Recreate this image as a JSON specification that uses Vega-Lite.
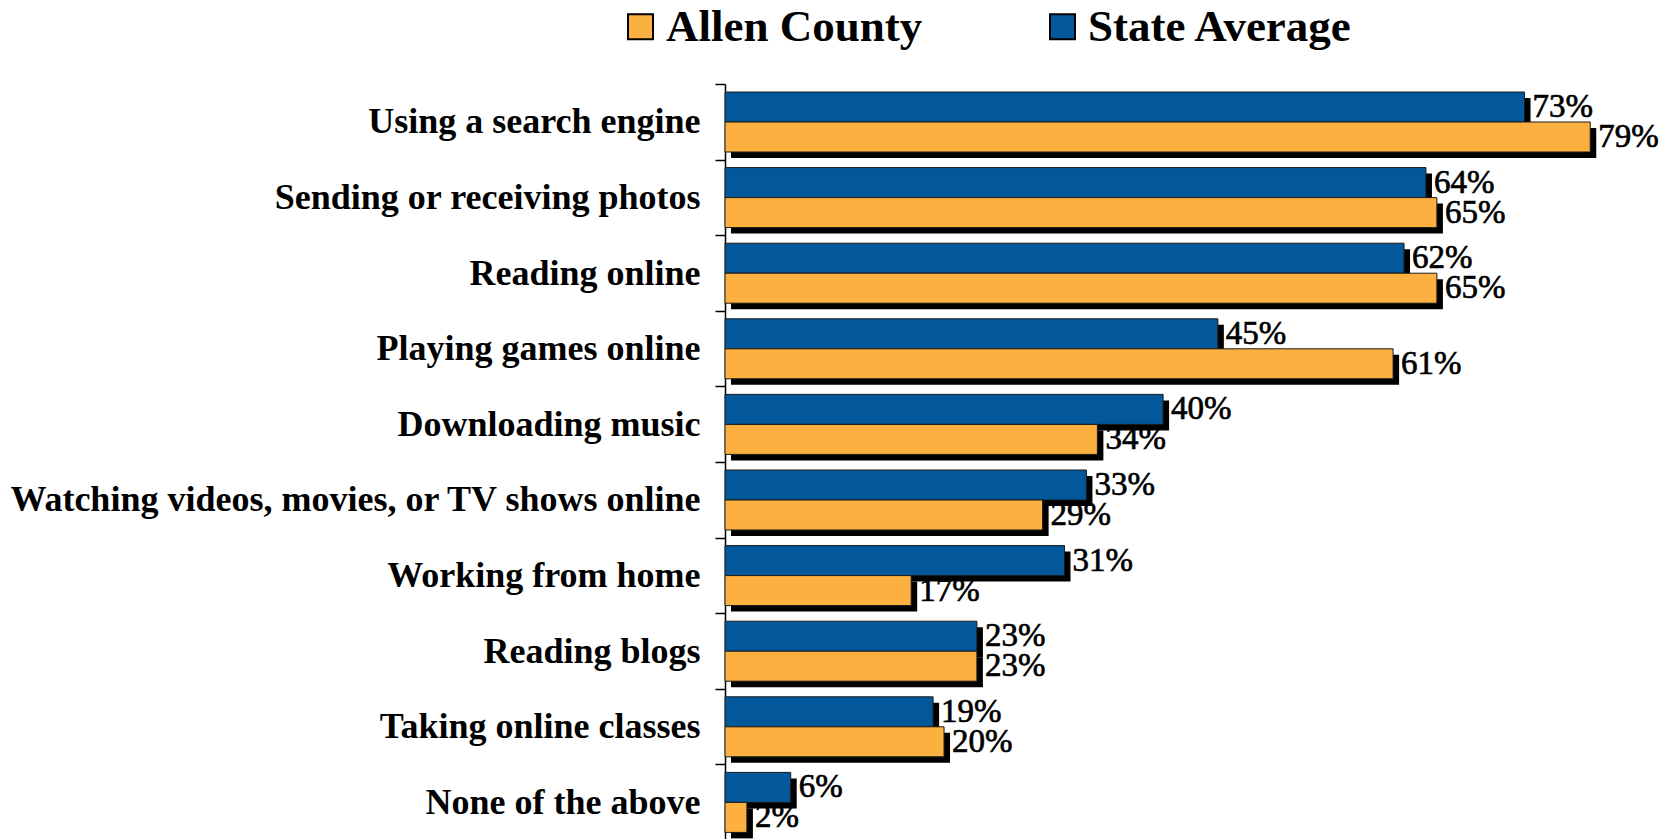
{
  "$schema": "https://vega.github.io/schema/vega-lite/v6.json",
  "autosize": {"type": "none"},
  "padding": {"left": 725, "top": 84, "right": 0, "bottom": 0},
  "width": 943,
  "height": 756,
  "background": "white",
  "config": {"view": {"stroke": null}, "font": "Liberation Serif"},
  "data": {
    "values": [
      {"activity": "Using a search engine", "series": "State Average", "value": 0.73},
      {"activity": "Using a search engine", "series": "Allen County", "value": 0.79},
      {"activity": "Sending or receiving photos", "series": "State Average", "value": 0.64},
      {"activity": "Sending or receiving photos", "series": "Allen County", "value": 0.65},
      {"activity": "Reading online", "series": "State Average", "value": 0.62},
      {"activity": "Reading online", "series": "Allen County", "value": 0.65},
      {"activity": "Playing games online", "series": "State Average", "value": 0.45},
      {"activity": "Playing games online", "series": "Allen County", "value": 0.61},
      {"activity": "Downloading music", "series": "State Average", "value": 0.40},
      {"activity": "Downloading music", "series": "Allen County", "value": 0.34},
      {"activity": "Watching videos, movies, or TV shows online", "series": "State Average", "value": 0.33},
      {"activity": "Watching videos, movies, or TV shows online", "series": "Allen County", "value": 0.29},
      {"activity": "Working from home", "series": "State Average", "value": 0.31},
      {"activity": "Working from home", "series": "Allen County", "value": 0.17},
      {"activity": "Reading blogs", "series": "State Average", "value": 0.23},
      {"activity": "Reading blogs", "series": "Allen County", "value": 0.23},
      {"activity": "Taking online classes", "series": "State Average", "value": 0.19},
      {"activity": "Taking online classes", "series": "Allen County", "value": 0.20},
      {"activity": "None of the above", "series": "State Average", "value": 0.06},
      {"activity": "None of the above", "series": "Allen County", "value": 0.02}
    ]
  },
  "encoding": {
    "y": {
      "field": "activity",
      "type": "nominal",
      "sort": ["Using a search engine", "Sending or receiving photos", "Reading online", "Playing games online", "Downloading music", "Watching videos, movies, or TV shows online", "Working from home", "Reading blogs", "Taking online classes", "None of the above"],
      "scale": {"paddingInner": 0, "paddingOuter": 0},
      "title": null,
      "axis": {
        "domainColor": "black",
        "domainWidth": 1.5,
        "tickColor": "black",
        "tickWidth": 1.5,
        "tickSize": 10,
        "tickBand": "extent",
        "labelFont": "Liberation Serif",
        "labelFontWeight": "bold",
        "labelFontSize": 36,
        "labelColor": "black",
        "labelPadding": 15,
        "labelLimit": 0,
        "grid": false
      }
    },
    "x": {
      "field": "value",
      "type": "quantitative",
      "scale": {"domain": [0, 0.861], "nice": false, "zero": true},
      "axis": null
    }
  },
  "layer": [
    {
      "mark": {"type": "bar", "color": "black", "xOffset": 6},
      "encoding": {
        "yOffset": {"field": "series", "type": "nominal", "scale": {"domain": ["State Average", "Allen County"], "range": [14, 74], "paddingInner": 0, "paddingOuter": 0}}
      }
    },
    {
      "mark": {"type": "bar", "stroke": "#1a1a1a", "strokeWidth": 1},
      "encoding": {
        "yOffset": {"field": "series", "type": "nominal", "scale": {"domain": ["State Average", "Allen County"], "range": [8, 68], "paddingInner": 0, "paddingOuter": 0}},
        "color": {
          "field": "series",
          "type": "nominal",
          "scale": {"domain": ["Allen County", "State Average"], "range": ["#fbb040", "#02589b"]},
          "legend": {
            "orient": "none",
            "legendX": -107,
            "legendY": -80,
            "direction": "horizontal",
            "title": null,
            "symbolType": "square",
            "symbolSize": 625,
            "symbolStrokeColor": "black",
            "symbolStrokeWidth": 2,
            "labelFont": "Liberation Serif",
            "labelFontWeight": "bold",
            "labelFontSize": 45,
            "labelColor": "black",
            "labelOffset": 3,
            "columnPadding": 117,
            "labelLimit": 0
          }
        }
      }
    },
    {
      "mark": {"type": "text", "align": "left", "baseline": "middle", "dx": 8, "fontSize": 33, "font": "Liberation Serif", "color": "black", "stroke": "black", "strokeWidth": 0.7},
      "encoding": {
        "yOffset": {"field": "series", "type": "nominal", "scale": {"domain": ["State Average", "Allen County"], "range": [23, 53], "padding": 0}},
        "text": {"field": "value", "type": "quantitative", "format": ".0%"}
      }
    }
  ],
  "resolve": {"scale": {"yOffset": "independent"}}
}
